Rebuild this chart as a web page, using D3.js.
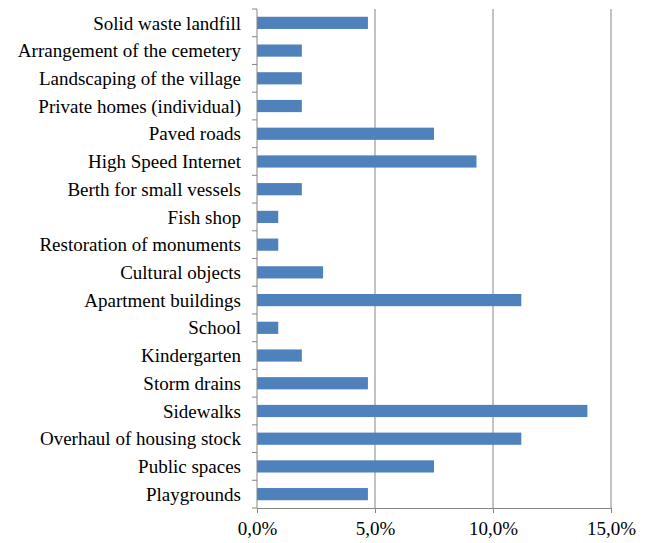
<!DOCTYPE html>
<html>
<head>
<meta charset="utf-8">
<script src="https://cdn.jsdelivr.net/npm/d3@7"></script>
</head>
<body style="margin:0">
<script>
// categories, top to bottom
var categories = [
    "Solid waste landfill", "Arrangement of the cemetery", "Landscaping of the village",
    "Private homes (individual)", "Paved roads", "High Speed Internet",
    "Berth for small vessels", "Fish shop", "Restoration of monuments",
    "Cultural objects", "Apartment buildings", "School", "Kindergarten",
    "Storm drains", "Sidewalks", "Overhaul of housing stock", "Public spaces", "Playgrounds"
];
// share of answers, %
var values = [4.7, 1.9, 1.9, 1.9, 7.5, 9.3, 1.9, 0.9, 0.9, 2.8, 11.2, 0.9, 1.9, 4.7, 14.0, 11.2, 7.5, 4.7];
var xTicks = [0, 5, 10, 15];

var svgWidth = 647;
var svgHeight = 543;
var margin = { top: 9, right: 36, bottom: 35, left: 257 };
var chartWidth = svgWidth - margin.left - margin.right;
var chartHeight = svgHeight - margin.top - margin.bottom;

var svg = d3.select("body")
    .append("svg")
    .attr("width", svgWidth)
    .attr("height", svgHeight);

var chartGroup = svg.append("g")
    .attr("transform", `translate(${margin.left}, ${margin.top})`);

var xScale = d3.scaleLinear()
    .domain([0, 15])
    .range([0, chartWidth]);

var yScale = d3.scaleBand()
    .domain(categories)
    .range([0, chartHeight])
    .paddingInner(0.56)
    .paddingOuter(0.28);

// gridlines
chartGroup.selectAll(".grid")
    .data(xTicks.slice(1))
    .enter()
    .append("line")
    .attr("x1", d => xScale(d))
    .attr("x2", d => xScale(d))
    .attr("y1", 0)
    .attr("y2", chartHeight)
    .attr("stroke", "#868686");

// bars
chartGroup.selectAll("rect")
    .data(values)
    .enter()
    .append("rect")
    .attr("x", xScale(0))
    .attr("y", (d, i) => yScale(categories[i]))
    .attr("width", d => xScale(d) - xScale(0))
    .attr("height", yScale.bandwidth())
    .attr("fill", "#4F81BD");

// left axis with ticks between categories
var leftAxis = chartGroup.append("g");
leftAxis.append("line")
    .attr("x1", 0).attr("x2", 0)
    .attr("y1", 0).attr("y2", chartHeight)
    .attr("stroke", "#868686");
leftAxis.selectAll(".tick")
    .data(d3.range(categories.length + 1))
    .enter()
    .append("line")
    .attr("x1", -5).attr("x2", 0)
    .attr("y1", d => d * chartHeight / categories.length)
    .attr("y2", d => d * chartHeight / categories.length)
    .attr("stroke", "#868686");
leftAxis.selectAll("text")
    .data(categories)
    .enter()
    .append("text")
    .attr("x", -16)
    .attr("y", d => yScale(d) + yScale.bandwidth() / 2)
    .attr("dy", "0.35em")
    .attr("text-anchor", "end")
    .attr("fill", "#000")
    .text(d => d);

// bottom axis
var bottomAxis = d3.axisBottom(xScale)
    .tickValues(xTicks)
    .tickSize(5)
    .tickPadding(9)
    .tickFormat(d => d.toFixed(1).replace(".", ",") + "%");

var xAxisGroup = chartGroup.append("g")
    .attr("transform", "translate(0, " + chartHeight + ")")
    .call(bottomAxis);
xAxisGroup.select(".domain").attr("stroke", "#868686");
xAxisGroup.selectAll(".tick line").attr("stroke", "#868686");
xAxisGroup.selectAll("text").attr("fill", "#000");

// serif labels, forced
svg.selectAll("text").each(function () {
    this.style.setProperty("font-family", "'Liberation Serif', 'Times New Roman', serif", "important");
    this.style.setProperty("font-size", "19px", "important");
});
</script>
</body>
</html>
